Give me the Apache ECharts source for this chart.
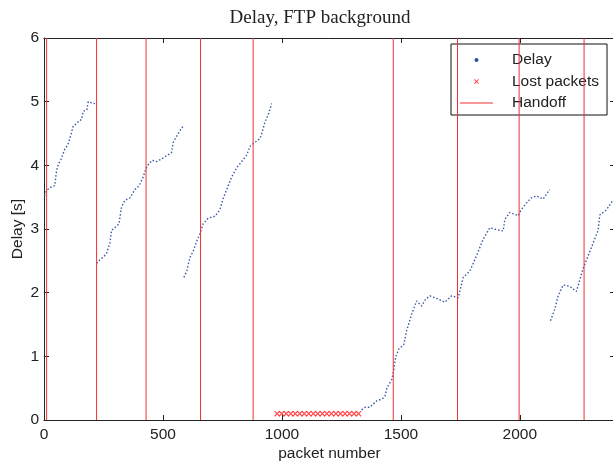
<!DOCTYPE html>
<html>
<head>
<meta charset="utf-8">
<script src="https://cdn.jsdelivr.net/npm/echarts@6/dist/echarts.min.js"></script>
<style>html,body{margin:0;padding:0;background:#fff;}#c{width:613px;height:464px;}</style>
</head>
<body>
<div id="c"></div>
<script>
// ---- data ----
var titleText = 'Delay, FTP background';
var xTicks = [0, 500, 1000, 1500, 2000];
var yTicks = [0, 1, 2, 3, 4, 5, 6];

// Delay samples: packet number and delay [s]; null separates segments
var delayPacket = [
  2, 10, 25, 45, 53, 60, 70, 88, 100, 110, 123, 135, 148, 158, 165, 180, 186, 200, 214, null,
  221, 235, 250, 263, 277, 284, 300, 315, 326, 340, 361, 382, 400, 416, 429, 440, 455, 473, 494, 515, 536, 543, 564, 585, null,
  588, 600, 613, 627, 641, 657, 669, 690, 718, 739, 753, 768, 789, 810, 831, 852, 866, 887, 908, 915, 929, 943, 957, null,
  1335, 1350, 1370, 1398, 1420, 1433, 1441, 1462, 1470, 1478, 1492, 1512, 1524, 1545, 1566, 1587, 1605, 1622, 1657, 1685, 1713, 1741, 1762, 1790, 1818, 1846, 1874, 1902, 1930, 1937, 1958, 1993, 2007, 2028, 2049, 2070, 2098, 2126, null,
  2129, 2147, 2161, 2182, 2210, 2238, 2252, 2266, 2287, 2308, 2329, 2336, 2364, 2385, 2395
];
var delayValue = [
  3.52, 3.6, 3.65, 3.68, 3.92, 4.02, 4.08, 4.26, 4.32, 4.44, 4.62, 4.65, 4.7, 4.72, 4.85, 4.87, 5.0, 4.98, 4.97, null,
  2.46, 2.52, 2.56, 2.62, 2.78, 2.98, 3.03, 3.08, 3.35, 3.45, 3.49, 3.62, 3.68, 3.81, 3.95, 4.02, 4.08, 4.06, 4.1, 4.15, 4.2, 4.36, 4.5, 4.62, null,
  2.24, 2.34, 2.55, 2.65, 2.8, 2.94, 3.08, 3.17, 3.2, 3.3, 3.48, 3.62, 3.82, 3.96, 4.06, 4.16, 4.3, 4.36, 4.42, 4.5, 4.68, 4.8, 4.97, null,
  0.16, 0.2, 0.2, 0.3, 0.33, 0.37, 0.5, 0.64, 0.78, 0.99, 1.12, 1.18, 1.4, 1.66, 1.87, 1.79, 1.9, 1.95, 1.9, 1.85, 1.95, 1.92, 2.24, 2.34, 2.58, 2.84, 3.02, 2.99, 2.97, 3.15, 3.26, 3.21, 3.31, 3.41, 3.49, 3.52, 3.47, 3.62, null,
  1.56, 1.74, 1.95, 2.12, 2.1, 2.02, 2.2, 2.38, 2.58, 2.78, 2.98, 3.22, 3.3, 3.42, 3.45
];

// Lost packets (packet number, drawn at delay 0.1)
var lostPacket = [980, 999, 1018, 1037, 1056, 1075, 1094, 1113, 1132, 1151, 1170, 1189, 1208, 1227, 1246, 1265, 1284, 1303, 1322];
var lostValue = [0.1, 0.1, 0.1, 0.1, 0.1, 0.1, 0.1, 0.1, 0.1, 0.1, 0.1, 0.1, 0.1, 0.1, 0.1, 0.1, 0.1, 0.1, 0.1];

// Handoff instants (packet number)
var handoffPacket = [11, 221, 429, 658, 879, 1468, 1738, 1997, 2270];

// ---- build series data ----
var delayData = delayPacket.map(function (x, i) {
  return x === null ? ['-', '-'] : [x, delayValue[i]];
});
var lostData = lostPacket.map(function (x, i) { return [x, lostValue[i]]; });
var handoffData = [];
handoffPacket.forEach(function (x, i) {
  if (i > 0) handoffData.push(['-', '-']);
  handoffData.push([x, yTicks[0]]);
  handoffData.push([x, yTicks[yTicks.length - 1]]);
});

var axisColor = '#222222';
var font = 'Liberation Sans, Arial, sans-serif';
var crossPath = 'path://M0,1.4L1.4,0L5,3.6L8.6,0L10,1.4L6.4,5L10,8.6L8.6,10L5,6.4L1.4,10L0,8.6L3.6,5Z';
var legendDot = 'path://M0,0L0,0ZM33,14L33,14ZM14.5,7A2,2 0 1 0 18.5,7A2,2 0 1 0 14.5,7Z';
var legendCross = 'path://M0,0L0,0ZM33,14L33,14ZM14,5.2L14.7,4.5L16.5,6.3L18.3,4.5L19,5.2L17.2,7L19,8.8L18.3,9.5L16.5,7.7L14.7,9.5L14,8.8L15.8,7Z';
var legendLine = 'path://M0,0L0,0ZM33,14L33,14ZM0,6.5L33,6.5L33,7.5L0,7.5Z';
var plainNum = function (v) { return String(v); };

var chart = echarts.init(document.getElementById('c'), null, {renderer: 'canvas'});
chart.setOption({
  animation: false,
  backgroundColor: '#ffffff',
  title: {
    text: titleText,
    left: 315,
    top: 4,
    textAlign: 'center',
    textStyle: {fontFamily: 'Liberation Serif, Times New Roman, serif', fontSize: 19, fontWeight: 'normal', color: '#222'}
  },
  legend: {
    orient: 'vertical',
    left: 451,
    top: 44,
    padding: [8, 8, 4, 9],
    itemWidth: 33,
    itemHeight: 14,
    itemGap: 5.5,
    backgroundColor: '#ffffff',
    borderColor: '#111111',
    borderWidth: 1,
    borderRadius: 0,
    symbolKeepAspect: true,
    textStyle: {fontFamily: font, fontSize: 15.5, lineHeight: 14, color: '#222', padding: [0, 0, 0, 14]},
    data: [
      {name: 'Delay', icon: legendDot, itemStyle: {color: '#3050a8', borderWidth: 0}},
      {name: 'Lost packets', icon: legendCross, itemStyle: {color: '#ff2020', borderWidth: 0}},
      {name: 'Handoff', icon: legendLine, itemStyle: {color: '#f03030', borderWidth: 0}}
    ]
  },
  grid: {left: 44, top: 38, width: 571, height: 382, containLabel: false, outerBoundsMode: 'none'},
  xAxis: [{
    type: 'value', min: 0, max: 2400, interval: 500, position: 'bottom',
    name: 'packet number', nameLocation: 'middle', nameGap: 26, nameMoveOverlap: false,
    nameTextStyle: {fontFamily: font, fontSize: 15.5, color: '#222'},
    axisLine: {show: true, onZero: false, lineStyle: {color: axisColor, width: 1}},
    axisTick: {show: true, inside: true, length: 5, lineStyle: {color: axisColor}},
    axisLabel: {fontFamily: font, fontSize: 15.5, color: '#222', margin: 7, showMaxLabel: false, formatter: plainNum},
    splitLine: {show: false}
  }, {
    type: 'value', min: 0, max: 2400, interval: 500, position: 'top',
    axisLine: {show: true, onZero: false, lineStyle: {color: axisColor, width: 1}},
    axisTick: {show: true, inside: true, length: 5, lineStyle: {color: axisColor}},
    axisLabel: {show: false},
    splitLine: {show: false}
  }],
  yAxis: [{
    type: 'value', min: 0, max: 6, interval: 1, position: 'left',
    name: 'Delay [s]', nameLocation: 'middle', nameGap: 18, nameMoveOverlap: false,
    nameTextStyle: {fontFamily: font, fontSize: 15.5, color: '#222'},
    axisLine: {show: true, onZero: false, lineStyle: {color: axisColor, width: 1}},
    axisTick: {show: true, inside: true, length: 5, lineStyle: {color: axisColor}},
    axisLabel: {fontFamily: font, fontSize: 15.5, color: '#222', margin: 5, formatter: plainNum},
    splitLine: {show: false}
  }, {
    type: 'value', min: 0, max: 6, interval: 1, position: 'right',
    axisLine: {show: true, onZero: false, lineStyle: {color: axisColor, width: 1}},
    axisTick: {show: true, inside: true, length: 5, lineStyle: {color: axisColor}},
    axisLabel: {show: false},
    splitLine: {show: false}
  }],
  series: [{
    name: 'Delay', type: 'line', data: delayData, xAxisIndex: 0, yAxisIndex: 0,
    showSymbol: false, symbol: 'none', connectNulls: false,
    lineStyle: {color: '#3858aa', width: 1.4, type: [1.5, 2]},
    itemStyle: {color: '#3050a8'}, z: 2
  }, {
    name: 'Lost packets', type: 'scatter', data: lostData, xAxisIndex: 0, yAxisIndex: 0,
    symbol: crossPath, symbolSize: 6,
    itemStyle: {color: '#ff2020'}, z: 3
  }, {
    name: 'Handoff', type: 'line', data: handoffData, xAxisIndex: 0, yAxisIndex: 0,
    showSymbol: false, symbol: 'none', connectNulls: false,
    lineStyle: {color: '#f03030', width: 1},
    itemStyle: {color: '#f03030'}, z: 4
  }]
});
</script>
</body>
</html>
